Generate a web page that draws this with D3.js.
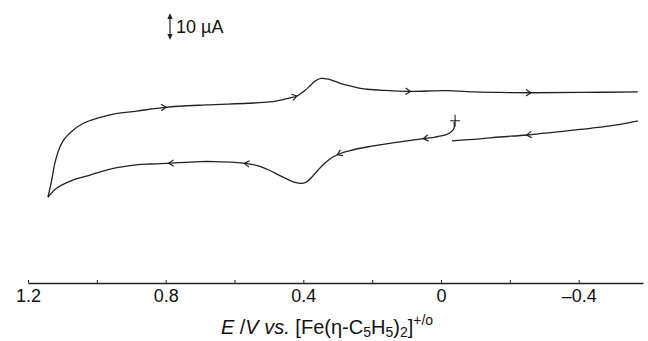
<!DOCTYPE html>
<html>
<head>
<meta charset="utf-8">
<script src="https://cdn.jsdelivr.net/npm/d3@7"></script>
<style>
  body { margin: 0; background: #fff; }
  text { font-family: "Liberation Sans", Arial, sans-serif; fill: #111; }
</style>
</head>
<body>
<div id="container"></div>
<script>
/* CONSTANTS AND GLOBALS */
const width = 648, height = 341;

// potential (V vs Fc+/Fc) and current (uA), in scan order
const scanStart = [[-0.038,3.0],[-0.038,0.7],[-0.029,-0.7],[-0.015,-1.7],[0.017,-2.6],[0.046,-3.1],
  [0.119,-4.4],[0.215,-6.3],[0.264,-7.6],[0.293,-8.7],[0.314,-10],[0.337,-12.2],[0.357,-14.8],
  [0.375,-17.4],[0.392,-19.3],[0.407,-19.8],[0.424,-19.4],[0.445,-18.3],[0.468,-16.9],[0.497,-15],
  [0.526,-13.5],[0.555,-12.6],[0.599,-12.0],[0.657,-11.7],[0.700,-11.7],[0.744,-12.0],[0.787,-12.3],
  [0.846,-12.6],[0.884,-12.9],[0.952,-14.2],[1.020,-16.7],[1.068,-18.5],[1.117,-21.6],[1.142,-24.9]];

const scanReverse = [[1.142,-24.9],[1.131,-18.5],[1.122,-12.3],[1.107,-6.2],[1.093,-3.1],[1.068,0],
  [1.039,2.5],[1.000,4.3],[0.952,5.9],[0.884,7.0],[0.802,8.4],
  [0.683,9.3],[0.561,9.9],[0.497,10.4],[0.465,11.1],[0.439,11.9],[0.418,12.6],[0.398,14.4],
  [0.381,16.3],[0.366,18.1],[0.349,19.1],[0.331,18.9],[0.314,18.3],[0.291,17.2],[0.264,16.3],
  [0.235,15.4],[0.215,15.1],[0.169,14.7],[0.090,14.3],[-0.015,14.6],[-0.099,14.1],[-0.171,13.9],
  [-0.267,13.8],[-0.404,13.9],[-0.572,14.1]];

const scanReturn = [[-0.572,3.4],[-0.491,1.5],[-0.404,0.2],[-0.250,-1.85],[-0.171,-2.6],[-0.113,-3.3],[-0.032,-4.0]];

// where the direction arrows sit (V)
const startArrows = [0.05, 0.30, 0.57, 0.79];
const reverseArrows = [0.80, 0.42, 0.09, -0.26];
const returnArrows = [-0.25];

const startPoint = [-0.041, 3.4];
const scaleBarValue = 10; // uA
const tickValues = [1.2, 1.0, 0.8, 0.6, 0.4, 0.2, 0, -0.2, -0.4];
const tickLabels = {"1.2": "1.2", "0.8": "0.8", "0.4": "0.4", "0": "0", "-0.4": "\u20130.4"};

const svg = d3.select("#container")
  .append("svg")
  .attr("width", width)
  .attr("height", height);

const x = d3.scaleLinear().domain([1.2, -0.587]).range([28, 643]);
const y = d3.scaleLinear().domain([0, 10]).range([130, 103]);

const line = d3.line()
  .x(d => x(d[0]))
  .y(d => y(d[1]))
  .curve(d3.curveCatmullRom.alpha(0.5));

const ink = "#222";

[scanStart, scanReverse, scanReturn].forEach(s => {
  svg.append("path")
    .attr("d", line(s))
    .attr("fill", "none")
    .attr("stroke", ink)
    .attr("stroke-width", 1.3);
});

// arrow head on a series at potential E, pointing along scan direction
function arrowAt(series, E) {
  for (let k = 0; k < series.length - 1; k++) {
    const a = series[k], b = series[k + 1];
    if ((E - a[0]) * (E - b[0]) <= 0 && a[0] !== b[0]) {
      const t = (E - a[0]) / (b[0] - a[0]);
      const px = x(a[0]) + t * (x(b[0]) - x(a[0]));
      const py = y(a[1]) + t * (y(b[1]) - y(a[1]));
      const ang = Math.atan2(y(b[1]) - y(a[1]), x(b[0]) - x(a[0])) * 180 / Math.PI;
      svg.append("path")
        .attr("d", "M-4.5,-3.2L0.5,0L-4.5,3.2")
        .attr("transform", `translate(${px},${py}) rotate(${ang})`)
        .attr("fill", "none")
        .attr("stroke", ink)
        .attr("stroke-width", 1.2);
      return;
    }
  }
}
startArrows.forEach(E => arrowAt(scanStart, E));
reverseArrows.forEach(E => arrowAt(scanReverse, E));
returnArrows.forEach(E => arrowAt(scanReturn, E));

// start marker
const sx = x(startPoint[0]), sy = y(startPoint[1]);
svg.append("path")
  .attr("d", `M${sx-5},${sy}H${sx+5}M${sx},${sy-6}V${sy+6}`)
  .attr("stroke", ink)
  .attr("stroke-width", 1.1);

// current scale bar
const barX = 170, barTop = 13;
const barLen = y(0) - y(scaleBarValue);
const bar = svg.append("g").attr("transform", `translate(${barX},${barTop})`);
bar.append("line").attr("y1", 2).attr("y2", barLen - 2).attr("stroke", ink).attr("stroke-width", 1.2);
bar.append("path").attr("d", "M0,0L-2.6,6L2.6,6Z").attr("fill", ink);
bar.append("path").attr("d", `M0,${barLen}L-2.6,${barLen-6}L2.6,${barLen-6}Z`).attr("fill", ink);
svg.append("text")
  .attr("x", 176).attr("y", 33)
  .style("font-size", "18px")
  .text("10 \u00B5A");

// AXIS
const axis = d3.axisBottom(x)
  .tickValues(tickValues)
  .tickSizeInner(-3)
  .tickSizeOuter(0)
  .tickPadding(6)
  .tickFormat(d => tickLabels[String(d)] || "");

const gx = svg.append("g")
  .attr("transform", "translate(0,283)")
  .call(axis);
gx.select(".domain").attr("stroke", ink).attr("stroke-width", 1.3);
gx.selectAll(".tick line").attr("stroke", ink);
gx.selectAll(".tick text")
  .style("font-size", "18px")
  .attr("fill", "#111")
  .style("font-family", "'Liberation Sans', Arial, sans-serif");

const title = svg.append("text")
  .attr("x", 327).attr("y", 334)
  .attr("text-anchor", "middle")
  .style("font-size", "20px");
title.append("tspan").style("font-style", "italic").text("E");
title.append("tspan").text(" /");
title.append("tspan").style("font-style", "italic").text("V vs.");
title.append("tspan").text(" [Fe(\u03B7-C");
title.append("tspan").attr("dy", 3).style("font-size", "14px").text("5");
title.append("tspan").attr("dy", -3).text("H");
title.append("tspan").attr("dy", 3).style("font-size", "14px").text("5");
title.append("tspan").attr("dy", -3).text(")");
title.append("tspan").attr("dy", 3).style("font-size", "14px").text("2");
title.append("tspan").attr("dy", -3).text("]");
title.append("tspan").attr("dy", -9).style("font-size", "14px").text("+/o");
</script>
</body>
</html>
